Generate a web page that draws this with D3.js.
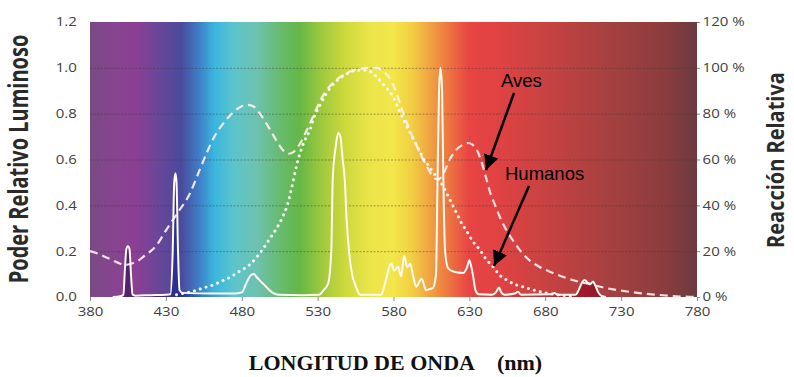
<!DOCTYPE html>
<html>
<head>
<meta charset="utf-8">
<script src="https://cdn.jsdelivr.net/npm/d3@7"></script>
<style>
body { margin: 0; background: #fff; }
</style>
</head>
<body>
<div id="chart"></div>
<script>
// axis ticks
var xTicks = [380, 430, 480, 530, 580, 630, 680, 730, 780];
var leftTicks = [0, 0.2, 0.4, 0.6, 0.8, 1.0, 1.2];
var rightTicks = [0, 20, 40, 60, 80, 100, 120];

// lamp spectrum (solid white line)
var lampNm = [395, 400, 402, 403, 404, 405, 406, 407, 408, 410, 420, 430, 433, 434.5, 435.5, 436.3, 437, 438, 439, 441,
  460, 475, 480, 483, 486, 488, 490, 493, 496, 500, 504, 520, 531, 534, 537, 539, 540, 542, 543.5, 545, 546.5, 548, 549,
  551, 553, 555, 558, 572, 574, 576, 578.5, 580.5, 583, 585, 587, 589, 591, 593, 595, 598.5, 601.5, 604, 606, 608, 609,
  610, 611, 612, 613, 614, 616, 620, 626, 628.5, 630, 631, 632.5, 634, 636, 645, 648, 649.5, 651, 653, 660, 662, 664,
  684, 686, 688, 700, 702, 704, 706, 708, 710, 711.5, 713, 715, 717, 720];
var lampVal = [0, 0.003, 0.01, 0.12, 0.21, 0.222, 0.21, 0.1, 0.01, 0.006, 0.008, 0.01, 0.012, 0.2, 0.5, 0.54, 0.5, 0.2, 0.03, 0.018,
  0.015, 0.015, 0.02, 0.06, 0.095, 0.1, 0.085, 0.065, 0.045, 0.02, 0.01, 0.008, 0.01, 0.03, 0.06, 0.2, 0.52, 0.66, 0.716, 0.7, 0.6, 0.5, 0.35,
  0.18, 0.09, 0.05, 0.01, 0.01, 0.05, 0.1, 0.147, 0.115, 0.132, 0.09, 0.18, 0.13, 0.145, 0.09, 0.045, 0.08, 0.03, 0.035, 0.04, 0.1, 0.5,
  0.9, 1.0, 0.9, 0.45, 0.2, 0.125, 0.11, 0.105, 0.13, 0.16, 0.14, 0.09, 0.03, 0.012, 0.01, 0.025, 0.042, 0.02, 0.01, 0.015, 0.023, 0.01,
  0.012, 0.018, 0.01, 0.01, 0.03, 0.06, 0.074, 0.062, 0.058, 0.068, 0.05, 0.02, 0.005, 0];

// birds response (dashed)
var avesNm = [380, 385, 390, 395, 400, 403, 407, 411, 416, 420, 424, 430, 437, 446, 452, 457, 462, 467, 472, 478, 484, 488, 492,
  496, 500, 504, 508, 511, 514, 518, 523, 527, 532, 536, 541, 547, 552, 558, 564, 569, 574, 578, 582, 586, 590, 594, 598, 602,
  605, 608, 610, 613, 617, 621, 626, 629, 632, 635, 638, 641, 644, 647, 650, 655, 660, 665, 670, 676, 685, 698, 710, 720, 730,
  742, 755, 764, 775, 780];
var avesVal = [0.2, 0.19, 0.175, 0.16, 0.145, 0.14, 0.145, 0.155, 0.18, 0.2, 0.227, 0.29, 0.36, 0.454, 0.55, 0.63, 0.7, 0.75, 0.79, 0.825, 0.838, 0.83, 0.8,
  0.76, 0.715, 0.67, 0.635, 0.625, 0.632, 0.665, 0.73, 0.787, 0.86, 0.903, 0.94, 0.969, 0.985, 0.995, 1.0, 1.0, 0.98, 0.95, 0.89, 0.81, 0.74, 0.678, 0.62, 0.57,
  0.535, 0.515, 0.515, 0.54, 0.6, 0.64, 0.665, 0.672, 0.665, 0.64, 0.59, 0.52, 0.45, 0.4, 0.35, 0.285, 0.235, 0.19, 0.158, 0.132, 0.105, 0.074, 0.055, 0.039, 0.028,
  0.017, 0.009, 0.004, 0.001, 0];

// human response (dotted)
var humanosNm = [437, 441, 448, 455, 461, 467, 472, 478, 485, 490, 494, 499, 503, 507, 510, 513, 516, 519, 522, 525, 528, 531, 535,
  538, 542, 547, 551, 556, 561, 565, 569, 573, 577, 580, 584, 587, 590, 593, 597, 600, 603, 606, 610, 613, 616, 619, 622, 625,
  628, 632, 637, 641, 645.6, 650, 654.6, 660, 665, 670, 676.5, 683, 690, 697];
var humanosVal = [0.01, 0.015, 0.025, 0.04, 0.052, 0.07, 0.085, 0.11, 0.14, 0.175, 0.21, 0.26, 0.3, 0.35, 0.4, 0.48, 0.57, 0.64, 0.69, 0.73, 0.79, 0.83, 0.88,
  0.91, 0.94, 0.965, 0.98, 0.99, 0.99, 0.983, 0.96, 0.93, 0.9, 0.87, 0.81, 0.77, 0.73, 0.69, 0.64, 0.6, 0.575, 0.545, 0.51, 0.48, 0.44, 0.4, 0.36, 0.32,
  0.29, 0.245, 0.205, 0.165, 0.132, 0.095, 0.074, 0.055, 0.045, 0.035, 0.023, 0.015, 0.008, 0.003];

// background spectrum colours
var bandNm = [380, 395, 410, 425, 440, 452, 462, 475, 490, 505, 518, 532, 548, 565, 580, 592, 603, 615, 630, 650, 680, 720, 760, 780];
var bandColor = ['#7a4a85', '#86448f', '#8b3f93', '#6a4699', '#4a4a9c', '#3f7fc8', '#3bb6de', '#5cc4cc', '#6ec2b0', '#68bb70',
  '#64b746', '#9cc83e', '#cdd93c', '#ece54a', '#f2e64a', '#f2cf42', '#f0a642', '#ee7a40', '#e84444', '#e04242', '#c84242',
  '#a84040', '#8a3c3e', '#6b3a40'];
// fill under the lamp line
var darkNm = [380, 412, 428, 440, 455, 475, 490, 505, 518, 532, 548, 565, 580, 592, 603, 615, 630, 650, 680, 700, 720, 780];
var darkColor = ['#4b1f6b', '#4b1f6b', '#32298a', '#24308e', '#2f7fc0', '#5cc4cc', '#6ec2b0', '#68bb70', '#64b746', '#9cc83e',
  '#cdd93c', '#ece54a', '#f2e64a', '#f2cf42', '#f0a642', '#ee7a40', '#e84444', '#d83a3a', '#b82a30', '#a0182a', '#8e1426', '#7a1422'];

var W = 794, H = 377;
var x = d3.scaleLinear().domain([380, 780]).range([90, 697]);
var y = d3.scaleLinear().domain([0, 1.2]).range([297, 22]);
var yR = d3.scaleLinear().domain([0, 120]).range([297, 22]);
var sx = 1.25; // tick text looks horizontally stretched

var svg = d3.select('#chart').append('svg')
  .attr('width', W).attr('height', H)
  .style('font-family', '"Open Sans", sans-serif');

var defs = svg.append('defs');
function grad(id, nms, cols) {
  var g = defs.append('linearGradient').attr('id', id)
    .attr('gradientUnits', 'userSpaceOnUse')
    .attr('x1', x(380)).attr('x2', x(780)).attr('y1', 0).attr('y2', 0);
  nms.forEach(function (n, i) {
    g.append('stop').attr('offset', (n - 380) / 400).attr('stop-color', cols[i]);
  });
}
grad('bg', bandNm, bandColor);
grad('dark', darkNm, darkColor);

svg.append('rect')
  .attr('x', x(380)).attr('y', y(1.2))
  .attr('width', x(780) - x(380)).attr('height', y(0) - y(1.2))
  .attr('fill', 'url(#bg)');

// grid
svg.append('g').selectAll('line').data(leftTicks.slice(1, 6))
  .enter().append('line')
  .attr('x1', x(380)).attr('x2', x(780))
  .attr('y1', function (d) { return y(d) + 0.5; })
  .attr('y2', function (d) { return y(d) + 0.5; })
  .attr('stroke', '#3a3a3a').attr('stroke-opacity', 0.45)
  .attr('stroke-dasharray', '2,1.5');

function pts(nm, v) { return nm.map(function (n, i) { return [n, v[i]]; }); }
var lamp = pts(lampNm, lampVal);
var aves = pts(avesNm, avesVal);
var humanos = pts(humanosNm, humanosVal);

var area = d3.area().x(function (d) { return x(d[0]); }).y0(y(0)).y1(function (d) { return y(d[1]); })
  .curve(d3.curveMonotoneX);
var line = d3.line().x(function (d) { return x(d[0]); }).y(function (d) { return y(d[1]); })
  .curve(d3.curveMonotoneX);

svg.append('path').datum(lamp).attr('d', area)
  .attr('fill', 'url(#dark)').attr('fill-opacity', 0.9);

svg.append('path').datum(humanos).attr('d', line)
  .attr('fill', 'none').attr('stroke', '#fff').attr('stroke-opacity', 0.92)
  .attr('stroke-width', 3).attr('stroke-linecap', 'round')
  .attr('stroke-dasharray', '0.1,6');

svg.append('path').datum(aves).attr('d', line)
  .attr('fill', 'none').attr('stroke', '#fff2f2').attr('stroke-opacity', 0.9)
  .attr('stroke-width', 2.2).attr('stroke-dasharray', '8,5');

svg.append('path').datum(lamp).attr('d', line)
  .attr('fill', 'none').attr('stroke', '#fffaf2')
  .attr('stroke-width', 2);

// axes
function styleAxis(g) {
  g.select('.domain').remove();
  g.selectAll('text').attr('font-size', 12).attr('fill', '#404040')
    .attr('font-family', '"Open Sans", sans-serif')
    .attr('transform', 'scale(' + sx + ',1)');
  g.selectAll('line').attr('stroke', '#888');
}

svg.append('g').attr('transform', 'translate(0,' + y(0) + ')')
  .call(d3.axisBottom(x).tickValues(xTicks).tickSize(4).tickPadding(6.5).tickFormat(d3.format('d')))
  .call(styleAxis);

svg.append('g').attr('transform', 'translate(' + x(380) + ',0)')
  .call(d3.axisLeft(y).tickValues(leftTicks).tickSize(0).tickPadding(10.5).tickFormat(d3.format('.1f')))
  .call(styleAxis);

svg.append('g').attr('transform', 'translate(' + x(780) + ',0)')
  .call(d3.axisRight(yR).tickValues(rightTicks).tickSize(3).tickPadding(1.5)
    .tickFormat(function (d) { return d + ' %'; }))
  .call(styleAxis);

// axis titles
svg.append('text')
  .attr('transform', 'translate(19,159) scale(1.35,1) rotate(-90)')
  .attr('text-anchor', 'middle').attr('dy', '0.35em')
  .attr('font-size', 20).attr('font-weight', 'bold').attr('fill', '#2a2a2a')
  .text('Poder Relativo Luminoso');

svg.append('text')
  .attr('transform', 'translate(776,160) scale(1.2,1) rotate(-90)')
  .attr('text-anchor', 'middle').attr('dy', '0.35em')
  .attr('font-size', 20).attr('font-weight', 'bold').attr('fill', '#2a2a2a')
  .text('Reacción Relativa');

var xt = svg.append('text')
  .attr('x', (x(380) + x(780)) / 2 + 2).attr('y', 370)
  .attr('text-anchor', 'middle')
  .attr('font-family', '"Liberation Serif", "Times New Roman", serif')
  .attr('font-size', 22).attr('font-weight', 'bold').attr('fill', '#111');
xt.append('tspan').text('LONGITUD DE ONDA');
xt.append('tspan').attr('dx', 22).text('(nm)');

// annotations
defs.append('marker').attr('id', 'head')
  .attr('viewBox', '0 0 10 10').attr('refX', 10).attr('refY', 5)
  .attr('markerWidth', 6).attr('markerHeight', 6)
  .attr('markerUnits', 'strokeWidth').attr('orient', 'auto')
  .append('path').attr('d', 'M0,0L10,5L0,10Z').attr('fill', '#000');

var notes = [
  { label: 'Aves', tx: 501, ty: 87, from: [514, 93], to: [486, 170] },
  { label: 'Humanos', tx: 505, ty: 180, from: [529, 186], to: [494, 266] }
];
notes.forEach(function (n) {
  svg.append('text').attr('x', n.tx).attr('y', n.ty)
    .attr('font-family', '"Liberation Sans", Arial, sans-serif')
    .attr('font-size', 18.5).attr('fill', '#000').text(n.label);
  svg.append('line')
    .attr('x1', n.from[0]).attr('y1', n.from[1])
    .attr('x2', n.to[0]).attr('y2', n.to[1])
    .attr('stroke', '#000').attr('stroke-width', 2.5)
    .attr('marker-end', 'url(#head)');
});
</script>
</body>
</html>
